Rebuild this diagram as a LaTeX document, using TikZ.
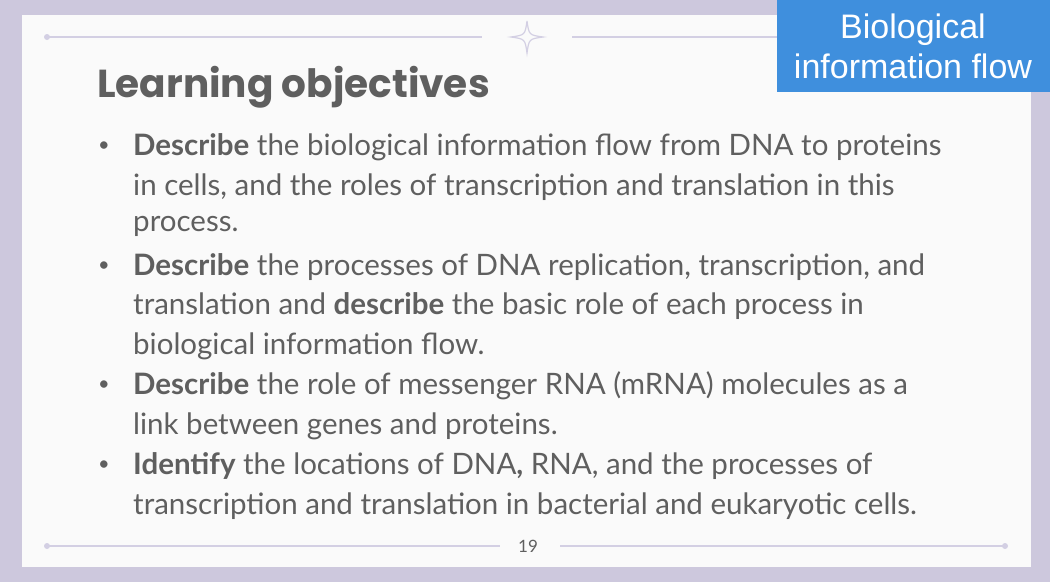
\documentclass[tikz,border=0pt]{standalone}
\usepackage{fontspec}
\setmainfont{Lato}
\newfontfamily\arialf{Liberation Sans}
\newfontfamily\titlef{Poppins}
\definecolor{frame}{HTML}{CDC8DD}
\definecolor{panel}{HTML}{FAFAFA}
\definecolor{deco}{HTML}{D3CFE3}
\definecolor{txt}{HTML}{5F5F5F}
\definecolor{blueb}{HTML}{3F8FDD}
\tikzset{ln/.style={anchor=west,inner sep=0,text=txt,font=\fontsize{29.5}{34}\selectfont},
bul/.style={anchor=center,inner sep=0,text=txt,font=\fontsize{20}{24}\selectfont},
decoline/.style={draw=deco,line width=1.5pt}}
\begin{document}
\begin{tikzpicture}[x=1pt,y=-1pt]
\fill[frame] (0,0) rectangle (1050,582);
\fill[panel] (22,15) rectangle (1031,567);
\coordinate (t1) at (47,37); \coordinate (t2) at (482,37);
\coordinate (t3) at (572,37); \coordinate (t4) at (800,37);
\draw[decoline] (t1) -- (t2); \draw[decoline] (t3) -- (t4);
\fill[deco] (t1) circle (3);
\node[inner sep=0] (star) at (527,37) {};
\draw[draw=deco,line width=1.2pt] (527,21) .. controls (529,35) .. (543,37) .. controls (529,39) .. (527,53) .. controls (525,39) .. (511,37) .. controls (525,35) .. (527,21);
\coordinate (b1) at (47,546); \coordinate (b2) at (500,546);
\coordinate (b3) at (560,546); \coordinate (b4) at (1005,546);
\draw[decoline] (b1) -- (b2); \draw[decoline] (b3) -- (b4);
\fill[deco] (b1) circle (3); \fill[deco] (b4) circle (3);
\node[text=txt,font=\fontsize{17}{20}\selectfont] (pg) at (528,546) {19};
\node[anchor=west,inner sep=0,text=txt,font=\titlef\bfseries\fontsize{39}{44}\selectfont] (title) at (97,87) {Learning objectives};
\fill[blueb] (777,0) rectangle (1050,92);
\node[text=white,align=center,font=\arialf\fontsize{34}{40}\selectfont] (bx) at (913,46) {Biological\\information flow};
\foreach \y in {147,267,386,466} \node[bul] at (104,\y) {•};
\node[ln] (l1) at (133,147) {\textbf{Describe} the biological information flow from DNA to proteins};
\node[ln] (l2) at (133,187) {in cells, and the roles of transcription and translation in this};
\node[ln] (l3) at (133,226) {process.};
\node[ln] (l4) at (133,267) {\textbf{Describe} the processes of DNA replication, transcription, and};
\node[ln] (l5) at (133,306) {translation and \textbf{describe} the basic role of each process in};
\node[ln] (l6) at (133,346) {biological information flow.};
\node[ln] (l7) at (133,386) {\textbf{Describe} the role of messenger RNA (mRNA) molecules as a};
\node[ln] (l8) at (133,426) {link between genes and proteins.};
\node[ln] (l9) at (133,466) {\textbf{Identify} the locations of DNA\textbf{,} RNA, and the processes of};
\node[ln] (l10) at (133,506) {transcription and translation in bacterial and eukaryotic cells.};
\end{tikzpicture}
\end{document}
